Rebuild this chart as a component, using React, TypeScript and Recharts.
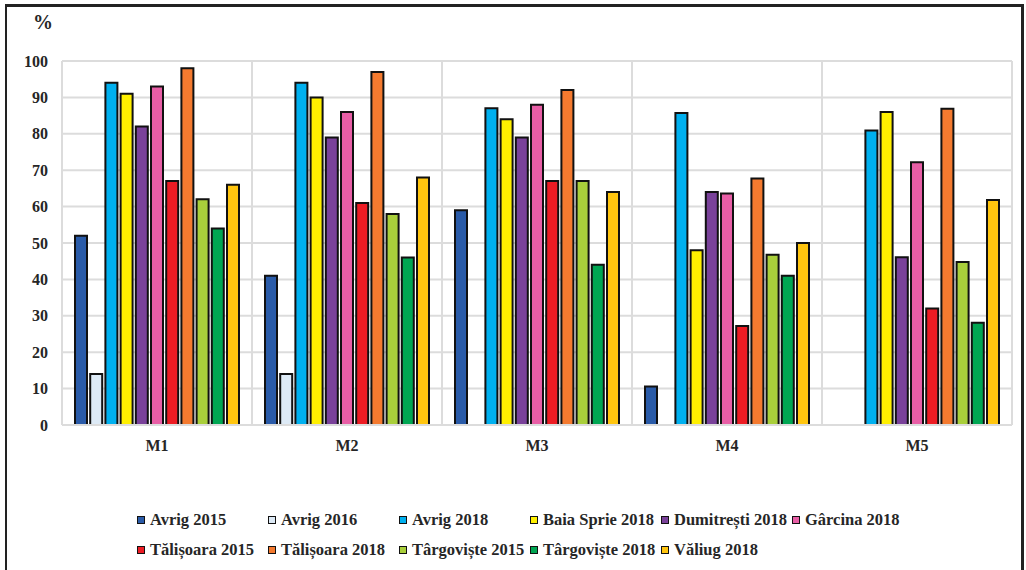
import { BarChart, Bar, XAxis, YAxis, CartesianGrid, Legend } from 'recharts'

// groups on the x axis
const groups = ['M1', 'M2', 'M3', 'M4', 'M5']

// one list per site/year, values in % for M1..M5 (null = no bar)
const avrig2015 = [52, 41, 59, 10.6, null]
const avrig2016 = [14, 14, null, null, null]
const avrig2018 = [94, 94, 87, 85.7, 80.9]
const baiaSprie2018 = [91, 90, 84, 48, 86]
const dumitresti2018 = [82, 79, 79, 64, 46.1]
const garcina2018 = [93, 86, 88, 63.6, 72.2]
const talisoara2015 = [67, 61, 67, 27.2, 32]
const talisoara2018 = [98, 97, 92, 67.7, 86.9]
const targoviste2015 = [62, 58, 67, 46.8, 44.8]
const targoviste2018 = [54, 46, 44, 41, 28.1]
const valiug2018 = [66, 68, 64, 50, 61.8]

const yTicks = [0, 10, 20, 30, 40, 50, 60, 70, 80, 90, 100]

const series = [
  { key: 'a15', name: 'Avrig 2015', color: '#2a5ba8', values: avrig2015 },
  { key: 'a16', name: 'Avrig 2016', color: '#ddeaf6', values: avrig2016 },
  { key: 'a18', name: 'Avrig 2018', color: '#00b0ef', values: avrig2018 },
  { key: 'bs18', name: 'Baia Sprie 2018', color: '#fff000', values: baiaSprie2018 },
  { key: 'd18', name: 'Dumitrești 2018', color: '#7a429a', values: dumitresti2018 },
  { key: 'g18', name: 'Gârcina 2018', color: '#e85ea6', values: garcina2018 },
  { key: 't15', name: 'Tălișoara 2015', color: '#ed1c24', values: talisoara2015 },
  { key: 't18', name: 'Tălișoara 2018', color: '#f47a2f', values: talisoara2018 },
  { key: 'tg15', name: 'Târgoviște 2015', color: '#a9cf3b', values: targoviste2015 },
  { key: 'tg18', name: 'Târgoviște 2018', color: '#00a652', values: targoviste2018 },
  { key: 'v18', name: 'Văliug 2018', color: '#ffc50f', values: valiug2018 },
]

const chartData = groups.map((g, i) => {
  const row: Record<string, string | number | null> = { name: g }
  series.forEach(s => { row[s.key] = s.values[i] })
  return row
})

const FONT = '"Liberation Serif", "Times New Roman", serif'
const TEXT = '#262626'

const legendRows = [series.slice(0, 6), series.slice(6)]

function renderLegend() {
  return (
    <div style={{ position: 'relative', width: 1026, height: 60 }}>
      {legendRows.map((row, r) =>
        row.map((s, c) => (
          <div
            key={s.key}
            style={{
              position: 'absolute',
              left: 137 + c * 131,
              top: r * 30,
              height: 20,
              display: 'flex',
              alignItems: 'center',
              whiteSpace: 'nowrap',
              fontFamily: FONT,
              fontWeight: 'bold',
              fontSize: 16.5,
              color: TEXT,
            }}
          >
            <span
              style={{
                display: 'inline-block',
                width: 6,
                height: 6,
                background: s.color,
                border: '1.5px solid #111',
                marginRight: 5,
              }}
            />
            {s.name}
          </div>
        ))
      )}
    </div>
  )
}

export default function App() {
  return (
    <div style={{ position: 'absolute', left: 0, top: 0, width: 1026, height: 570, background: '#fff', overflow: 'hidden' }}>
      <div
        style={{
          position: 'absolute',
          left: 5,
          top: 4,
          width: 1019,
          height: 600,
          boxSizing: 'border-box',
          borderTop: '3px solid #222',
          borderLeft: '2px solid #222',
          borderRight: '3px solid #222',
        }}
      />
      <div
        style={{
          position: 'absolute',
          left: 33,
          top: 11,
          fontFamily: FONT,
          fontWeight: 'bold',
          fontSize: 20,
          color: TEXT,
        }}
      >
        %
      </div>

      <BarChart
        width={1026}
        height={570}
        data={chartData}
        margin={{ top: 61, right: 14, bottom: 115, left: 0 }}
        barCategoryGap={13}
        barGap={3.2}
        style={{ position: 'absolute', left: 0, top: 0 }}
      >
        <CartesianGrid
          stroke="#dcdcdc"
          strokeWidth={2}
          verticalCoordinatesGenerator={({ offset }: any) =>
            groups.map((_, i) => offset.left + (i * offset.width) / groups.length).concat(offset.left + offset.width)
          }
        />
        <XAxis
          dataKey="name"
          axisLine={{ stroke: '#dcdcdc', strokeWidth: 2 }}
          tickLine={false}
          tickMargin={9}
          tick={{ fontFamily: FONT, fontWeight: 'bold', fontSize: 16, fill: TEXT }}
        />
        <YAxis
          width={62}
          domain={[0, 100]}
          ticks={yTicks}
          axisLine={false}
          tickLine={false}
          tickMargin={8}
          tick={{ fontFamily: FONT, fontWeight: 'bold', fontSize: 16, fill: TEXT }}
        />
        <Legend
          layout="horizontal"
          verticalAlign="middle"
          align="center"
          content={renderLegend}
          wrapperStyle={{ left: 0, top: 510, width: 1026, height: 60 }}
        />
        {series.map(s => (
          <Bar
            key={s.key}
            dataKey={s.key}
            name={s.name}
            fill={s.color}
            stroke="#111"
            strokeWidth={2}
            isAnimationActive={false}
          />
        ))}
      </BarChart>
    </div>
  )
}
